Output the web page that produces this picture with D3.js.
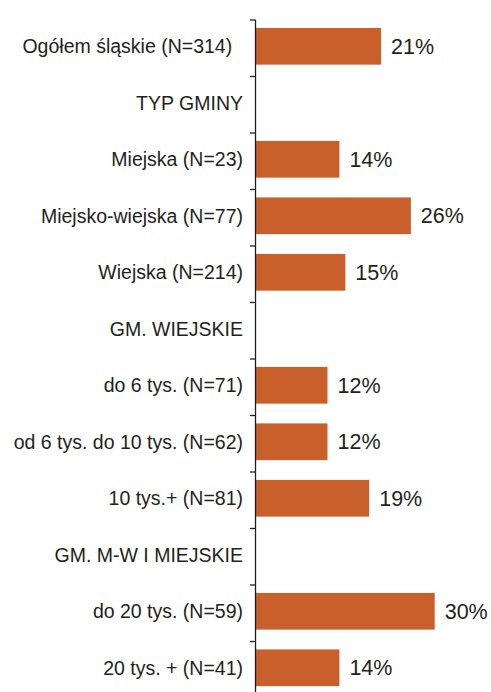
<!DOCTYPE html>
<html>
<head>
<meta charset="utf-8">
<script src="https://cdn.jsdelivr.net/npm/d3@7"></script>
<style>
  html, body { margin: 0; padding: 0; background: #ffffff; }
  svg { display: block; }
  text { font-family: "Liberation Sans", Arial, Helvetica, sans-serif; fill: #231f20; }
</style>
</head>
<body>
<div id="chart"></div>
<script>
// Row labels (section headers have no value)
const categories = [
  "Ogółem śląskie (N=314)\u00a0\u00a0",
  "TYP GMINY",
  "Miejska (N=23)",
  "Miejsko-wiejska (N=77)",
  "Wiejska (N=214)",
  "GM. WIEJSKIE",
  "do 6 tys. (N=71)",
  "od 6 tys. do 10 tys. (N=62)",
  "10 tys.+ (N=81)",
  "GM. M-W I MIEJSKIE",
  "do 20 tys. (N=59)",
  "20 tys. + (N=41)"
];
// Share in percent, null for header rows
const values = [21, null, 14, 26, 15, null, 12, 12, 19, null, 30, 14];

const width = 491, height = 692;
const axisX = 255.5;
const rowsTop = 20, rowsBottom = 698;

const svg = d3.select("#chart").append("svg")
  .attr("width", width).attr("height", height);

const y = d3.scaleBand()
  .domain(categories)
  .range([rowsTop, rowsBottom])
  .padding(0);

const x = d3.scaleLinear()
  .domain([0, 30])
  .range([axisX + 0.5, 434.7]);

const bw = y.bandwidth();
const barOffset = bw * 0.14;
const barH = bw * 0.65;

const rows = categories.map((c, i) => ({ label: c, value: values[i] }));

// bars
svg.append("g").selectAll("rect")
  .data(rows.filter(d => d.value != null))
  .join("rect")
  .attr("x", x(0))
  .attr("y", d => y(d.label) + barOffset)
  .attr("width", d => x(d.value) - x(0))
  .attr("height", barH)
  .attr("fill", "#c95f2b");

// value labels
svg.append("g").selectAll("text")
  .data(rows.filter(d => d.value != null))
  .join("text")
  .attr("x", d => x(d.value) + 10)
  .attr("y", d => y(d.label) + barOffset + barH / 2)
  .attr("dy", "0.35em")
  .style("font-size", "21.5px")
  .text(d => d.value + "%");

// category labels
svg.append("g").selectAll("text")
  .data(rows)
  .join("text")
  .attr("x", axisX - 12.5)
  .attr("y", d => y(d.label) + barOffset + barH / 2)
  .attr("dy", "0.36em")
  .attr("text-anchor", "end")
  .attr("xml:space", "preserve")
  .style("font-size", "19.5px")
  .text(d => d.label);

// vertical axis with ticks at row boundaries
const axis = svg.append("g");
axis.append("line")
  .attr("x1", axisX).attr("x2", axisX)
  .attr("y1", rowsTop).attr("y2", rowsBottom)
  .attr("stroke", "#231f20").attr("stroke-width", 1.3);
axis.selectAll("line.tick")
  .data(categories)
  .join("line")
  .attr("class", "tick")
  .attr("x1", axisX - 5.5).attr("x2", axisX)
  .attr("y1", d => y(d)).attr("y2", d => y(d))
  .attr("stroke", "#231f20").attr("stroke-width", 1.3);
</script>
</body>
</html>
